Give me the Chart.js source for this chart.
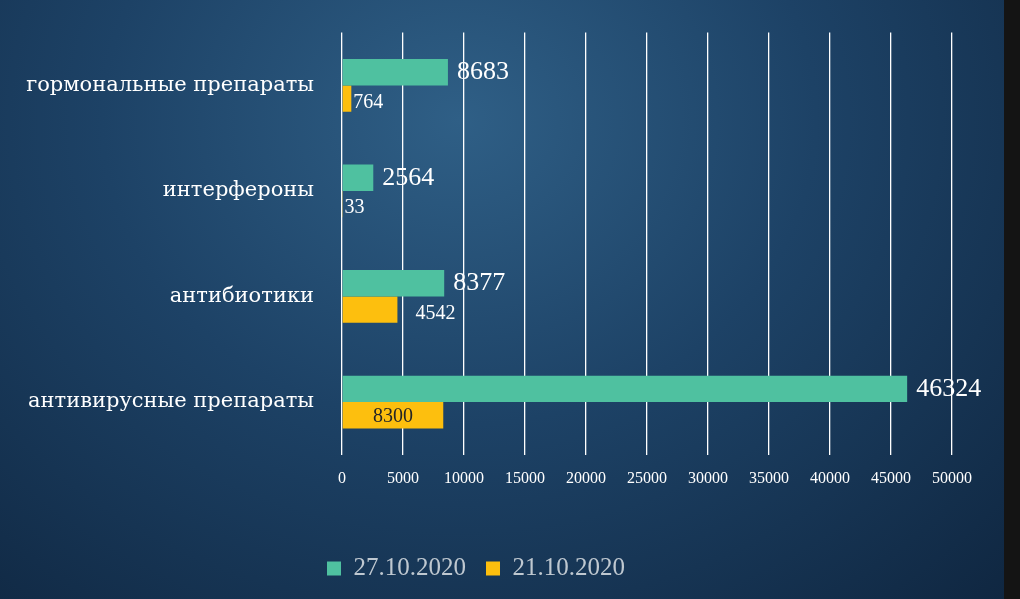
<!DOCTYPE html>
<html><head><meta charset="utf-8">
<script src="https://cdn.jsdelivr.net/npm/chart.js@4/dist/chart.umd.min.js"></script>
<style>
html,body{margin:0;padding:0;width:1020px;height:599px;overflow:hidden;}
body{background:radial-gradient(ellipse at 45% 20%, #2f5f86 0%, #1d4266 45%, #0f2640 100%);}
#wrap{position:absolute;left:0;top:0;width:1004px;height:599px;}
#edge{position:absolute;left:1004px;top:0;width:16px;height:599px;background:#141414;}
</style></head><body>
<div id="wrap"><canvas id="c" width="1004" height="599"></canvas></div><div id="edge"></div>
<script>
const categories = ["гормональные препараты","интерфероны","антибиотики","антивирусные препараты"];
const series1Name = "27.10.2020";
const series2Name = "21.10.2020";
const series1 = [8683, 2564, 8377, 46324];
const series2 = [764, 33, 4542, 8300];
const tickValues = [0,5000,10000,15000,20000,25000,30000,35000,40000,45000,50000];

const labelPlugin = {
  id:'lbl',
  afterDatasetsDraw(chart){
    const ctx = chart.ctx;
    chart.data.datasets.forEach((ds,di)=>{
      const meta = chart.getDatasetMeta(di);
      meta.data.forEach((bar,i)=>{
        const v = ds.data[i];
        ctx.save();
        ctx.textBaseline='middle';
        if(di===0){
          ctx.font='26px "Liberation Serif"'; ctx.fillStyle='#ffffff'; ctx.textAlign='left';
          ctx.fillText(String(v), bar.x+9, bar.y);
        } else {
          ctx.font='20px "Liberation Serif"';
          if(v>=8000){ ctx.fillStyle='#262626'; ctx.textAlign='center'; ctx.fillText(String(v),(bar.x+bar.base)/2,bar.y+2);}
          else { ctx.fillStyle='#ffffff'; ctx.textAlign='left'; ctx.fillText(String(v), bar.x+(v>1000?18:2), bar.y+4);}
        }
        ctx.restore();
      });
    });
  }
};

new Chart(document.getElementById('c'),{
  type:'bar',
  data:{labels:categories,datasets:[
    {label:series1Name,data:series1,backgroundColor:'#4fc1a0',categoryPercentage:0.5,barPercentage:1},
    {label:series2Name,data:series2,backgroundColor:'#fdbf0e',categoryPercentage:0.5,barPercentage:1}
  ]},
  options:{
    indexAxis:'y',responsive:false,animation:false,
    layout:{padding:{left:0,right:52,top:30,bottom:0}},
    scales:{
      x:{min:0,max:50000,afterBuildTicks(a){a.ticks=tickValues.map(v=>({value:v}));},
        grid:{color:'#ffffff',lineWidth:1.3,drawTicks:false},border:{display:false},
        afterFit(s){s.height+=34;},
        ticks:{color:'#ffffff',font:{family:'Liberation Serif',size:16},padding:14,callback:v=>String(v)}},
      y:{grid:{display:false},border:{display:false},
        ticks:{color:'#ffffff',font:{family:'DejaVu Serif',size:21},padding:20},
        afterFit(s){s.width=342;}}
    },
    plugins:{tooltip:{enabled:false},
      legend:{position:'bottom',labels:{color:'#bfc8d0',font:{family:'Liberation Serif',size:25},boxWidth:14,boxHeight:14,padding:20}}}
  },
  plugins:[labelPlugin,{id:'lgpad',beforeInit(c){const f=c.legend.fit;c.legend.fit=function(){f.bind(c.legend)();this.height+=8;};}}]
});
</script></body></html>
